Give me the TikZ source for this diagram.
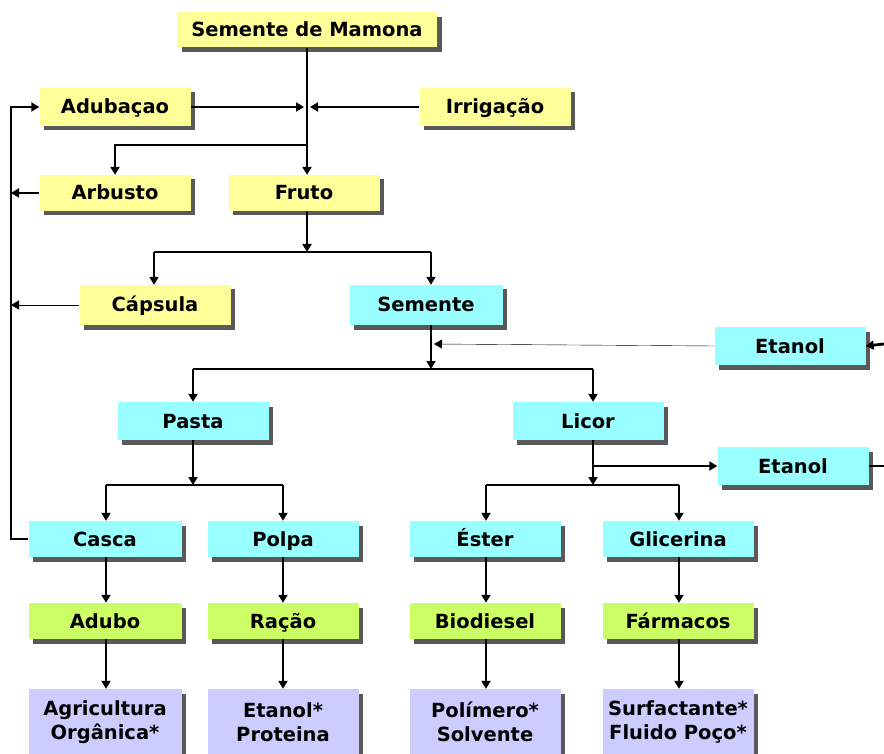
\documentclass[tikz,border=0pt]{standalone}
\usepackage{fontspec}
\setmainfont{DejaVu Sans}
\usetikzlibrary{arrows.meta,shadows,calc}
\definecolor{byellow}{HTML}{FFFF99}
\definecolor{bcyan}{HTML}{99FFFF}
\definecolor{bgreen}{HTML}{CCFF66}
\definecolor{blav}{HTML}{CCCCFF}
\definecolor{thin}{HTML}{D0D0D0}
\begin{document}
\begin{tikzpicture}[x=1pt,y=-1pt,
  base/.style={draw=none, minimum width=151pt, minimum height=38pt, inner sep=0pt,
    font=\bfseries\fontsize{19.5}{24}\selectfont, align=center,
    drop shadow={shadow xshift=4.5pt, shadow yshift=-4.5pt, fill=black!65, opacity=1}},
  box/.style={base, text height=16pt, text depth=2pt},
  ybox/.style={box, fill=byellow},
  cbox/.style={box, fill=bcyan},
  gbox/.style={box, fill=bgreen},
  lbox/.style={base, fill=blav, minimum height=66pt},
  conn/.style={line width=2.8pt, black},
  arr/.style={conn, -{Triangle[length=8pt,width=9pt]}},
  tarr/.style={line width=1.3pt, thin, -{Triangle[length=8pt,width=9pt,color=black,fill=black]}}
]
\useasboundingbox[fill=white] (0,0) rectangle (884,754);

% nodes
\node[ybox, minimum width=260pt, minimum height=35pt] (mamona) at (307,30) {Semente de Mamona};
\node[ybox] (adub) at (115,107) {Adubaçao};
\node[ybox] (irrig) at (495,107) {Irrigação};
\node[ybox, minimum height=36pt] (arbusto) at (115,193) {Arbusto};
\node[ybox, minimum height=36pt] (fruto) at (304,193) {Fruto};
\node[ybox, minimum height=40pt] (capsula) at (155,305) {Cápsula};
\node[cbox, minimum height=40pt, minimum width=153pt] (semente) at (426,305) {Semente};
\node[cbox] (etanolA) at (790,346) {Etanol};
\node[cbox] (pasta) at (193,421) {Pasta};
\node[cbox] (licor) at (588,421) {Licor};
\node[cbox] (etanolB) at (793,466) {Etanol};
\node[cbox, minimum height=36pt, minimum width=153pt] (casca) at (105,539) {Casca};
\node[cbox, minimum height=36pt] (polpa) at (283,539) {Polpa};
\node[cbox, minimum height=36pt] (ester) at (485,539) {Éster};
\node[cbox, minimum height=36pt] (glic) at (678,539) {Glicerina};
\node[gbox, minimum height=36pt, minimum width=153pt] (adubo) at (105,621) {Adubo};
\node[gbox, minimum height=36pt] (racao) at (283,621) {Ração};
\node[gbox, minimum height=36pt] (biod) at (485,621) {Biodiesel};
\node[gbox, minimum height=36pt] (farm) at (678,621) {Fármacos};
\node[lbox, minimum width=153pt] (agric) at (105,722) {Agricultura\\Orgânica*};
\node[lbox] (etprot) at (283,722) {Etanol*\\Proteina};
\node[lbox] (polim) at (485,722) {Polímero*\\Solvente};
\node[lbox] (surf) at (678,722) {Surfactante*\\Fluido Poço*};

% junction coordinates
\coordinate (jA) at (307,107);
\coordinate (jB) at (307,145);
\coordinate (jC) at (307,252);
\coordinate (cx) at (154,252);
\coordinate (sx) at (431,252);
\coordinate (jD) at (431,369);
\coordinate (jE) at (431,344);
\coordinate (px) at (193,369);
\coordinate (lx) at (593,369);
\coordinate (jF) at (193,485);
\coordinate (k1) at (106,485);
\coordinate (k2) at (283,485);
\coordinate (jG) at (593,485);
\coordinate (jH) at (593,466);
\coordinate (k3) at (486,485);
\coordinate (k4) at (679,485);
\coordinate (lt) at (11,107);
\coordinate (lb) at (11,539);
\coordinate (reA) at (884,344);
\coordinate (reB) at (884,466);

% top part
\draw[arr] (mamona.south) -- (mamona.south |- fruto.north);
\draw[arr] (adub.east) -- ([xshift=-3pt]jA);
\draw[arr] (irrig.west) -- ([xshift=3pt]jA);
\draw[arr] (jB) -| (arbusto.north);
% left feedback loop
\draw[arr] (casca.west) -- (lb) -- (lt) -- (adub.west);
\draw[arr] (arbusto.west) -- (arbusto.west -| lt);
\draw[tarr] (capsula.west) -- (capsula.west -| lt);
% fruto split
\draw[arr] (jC |- fruto.south) -- (jC);
\draw[conn] (cx) -- (sx);
\draw[arr] (cx) -- (cx |- capsula.north);
\draw[arr] (sx) -- (sx |- semente.north);
% semente split
\draw[arr] (sx |- semente.south) -- (jD);
\draw[tarr] (etanolA.west) -- ([xshift=3pt]jE);
\draw[arr] (reA) -- (etanolA.east);
\draw[conn] (px) -- (lx);
\draw[arr] (px) -- (px |- pasta.north);
\draw[arr] (lx) -- (lx |- licor.north);
% pasta split
\draw[arr] (pasta.south) -- (jF);
\draw[conn] (k1) -- (k2);
\draw[arr] (k1) -- (k1 |- casca.north);
\draw[arr] (k2) -- (k2 |- polpa.north);
% licor split
\draw[arr] (lx |- licor.south) -- (jG);
\draw[arr] (jH) -- (etanolB.west);
\draw[conn] (etanolB.east) -- (reB);
\draw[conn] (k3) -- (k4);
\draw[arr] (k3) -- (k3 |- ester.north);
\draw[arr] (k4) -- (k4 |- glic.north);
% vertical chains
\draw[arr] (k1 |- casca.south) -- (k1 |- adubo.north);
\draw[arr] (k2 |- polpa.south) -- (k2 |- racao.north);
\draw[arr] (k3 |- ester.south) -- (k3 |- biod.north);
\draw[arr] (k4 |- glic.south) -- (k4 |- farm.north);
\draw[arr] (k1 |- adubo.south) -- (k1 |- agric.north);
\draw[arr] (k2 |- racao.south) -- (k2 |- etprot.north);
\draw[arr] (k3 |- biod.south) -- (k3 |- polim.north);
\draw[arr] (k4 |- farm.south) -- (k4 |- surf.north);
\end{tikzpicture}
\end{document}
